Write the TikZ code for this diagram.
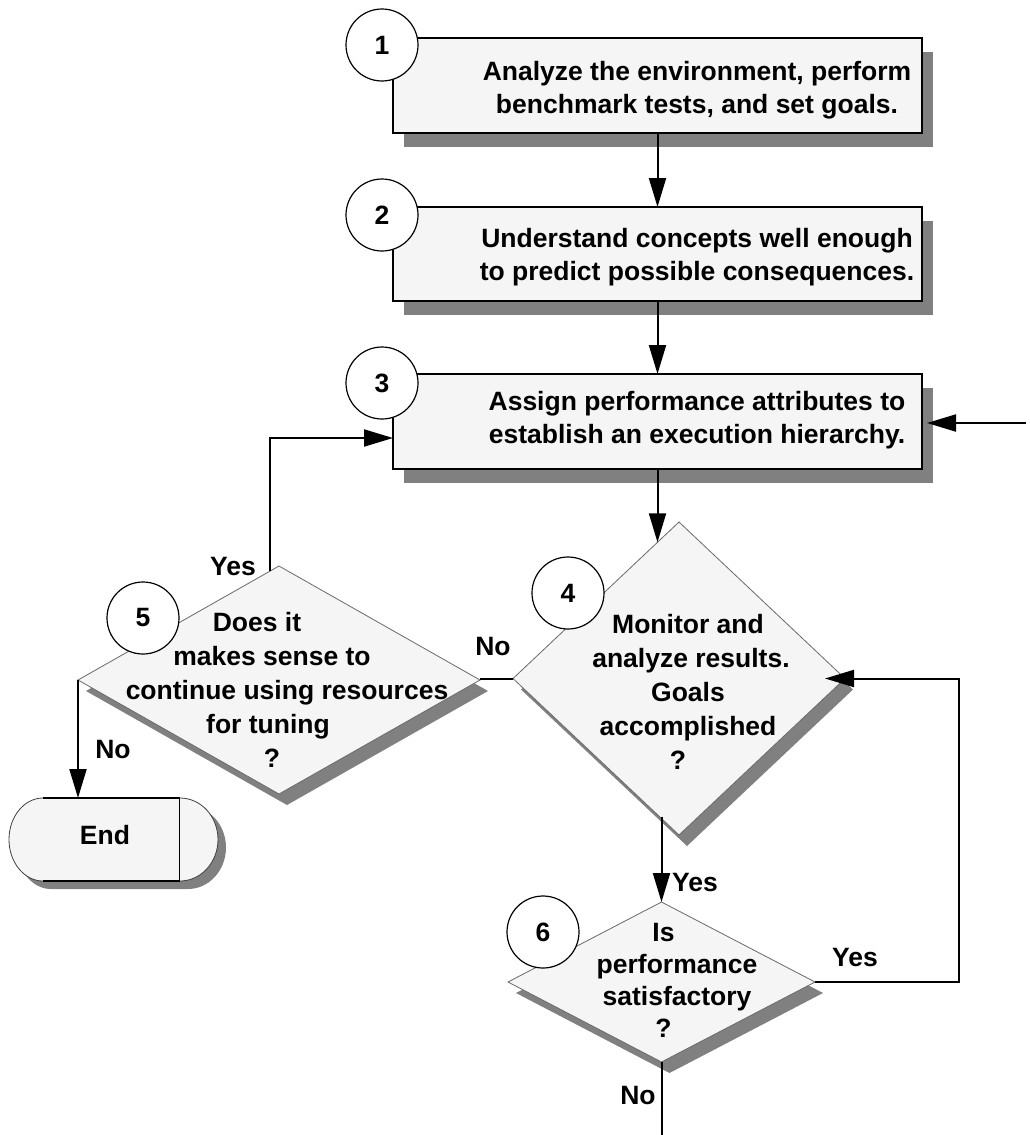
\documentclass[tikz,border=0pt]{standalone}
\usepackage{fontspec}
\setmainfont{Liberation Sans}
\usetikzlibrary{arrows.meta,shapes.geometric,shadows,calc}
\definecolor{panel}{RGB}{245,245,245}
\definecolor{shadowgray}{RGB}{128,128,128}
\definecolor{rim}{RGB}{105,105,105}
\begin{document}
\begin{tikzpicture}[x=1pt,y=-1pt,
  every node/.style={inner sep=0pt, outer sep=0pt},
  every shadow/.style={fill=shadowgray, opacity=1},
  txt/.style={font={\fontsize{26.5}{33}\selectfont\bfseries}, align=center},
  stepbox/.style={rectangle, draw=black, line width=1.3pt, fill=panel,
    minimum width=529pt,
    drop shadow={shadow xshift=11pt, shadow yshift=-14pt, fill=shadowgray, opacity=1}},
  decision/.style={diamond, draw=rim, line width=0.8pt, fill=panel,
    drop shadow={shadow xshift=8pt, shadow yshift=-11pt, fill=shadowgray, opacity=1}},
  numring/.style={circle, draw=black, line width=1.2pt, fill=white,
    minimum size=72pt, font={\fontsize{26.5}{33}\selectfont\bfseries}},
  conn/.style={line width=2pt},
  arrow/.style={conn, -{Triangle[length=29pt,width=17pt]}}
]
\useasboundingbox (0,0) rectangle (1029,1135);

% process boxes
\node[stepbox, minimum height=95pt] (b1) at (657.5,85.5) {};
\node[stepbox, minimum height=94pt] (b2) at (657.5,254) {};
\node[stepbox, minimum height=95pt] (b3) at (657.5,421.5) {};
\node[txt] (t1) at (697,90) {Analyze the environment, perform\\benchmark tests, and set goals.};
\node[txt] (t2) at (697,257) {Understand concepts well enough\\to predict possible consequences.};
\node[txt] (t3) at (697,420) {Assign performance attributes to\\establish an execution hierarchy.};

% decisions
\node[decision, minimum width=332pt, minimum height=313pt] (d4) at (679,678.5) {};
\node[decision, minimum width=402pt, minimum height=228pt] (d5) at (279,680) {};
\node[decision, minimum width=307pt, minimum height=160pt] (d6) at (661.5,982) {};
\node[txt, font={\fontsize{26.5}{34}\selectfont\bfseries}] (t4) at (688,692)
  {Monitor and\\\hspace*{6pt}analyze results.\\Goals\\accomplished\\?\hspace*{20pt}\mbox{}};
\node[txt, font={\fontsize{26.5}{34}\selectfont\bfseries}] (t5) at (272,690)
  {Does it\hspace*{30pt}\mbox{}\\makes sense to\\\hspace*{30pt}continue using resources\\for tuning\hspace*{8pt}\mbox{}\\?};
\node[txt, font={\fontsize{26.5}{32}\selectfont\bfseries}] (t6) at (677,980)
  {Is\hspace*{27pt}\mbox{}\\performance\\satisfactory\\?\hspace*{27pt}\mbox{}};

% step numbers
\node[numring] (n1) at (382,45) {1};
\node[numring] (n2) at (382,215) {2};
\node[numring] (n3) at (382,383) {3};
\node[numring] (n4) at (568,593) {4};
\node[numring] (n5) at (143,618) {5};
\node[numring] (n6) at (543,932) {6};

% terminator
\begin{scope}[shift={(8,8)}]
  \fill[shadowgray] (43,798) -- (180,798) arc[start angle=90, end angle=-90, x radius=38pt, y radius=41.5pt]
    -- (43,881) arc[start angle=270, end angle=90, x radius=34pt, y radius=41.5pt] -- cycle;
\end{scope}
\fill[panel] (43,798) -- (180,798) arc[start angle=90, end angle=-90, x radius=38pt, y radius=41.5pt]
    -- (43,881) arc[start angle=270, end angle=90, x radius=34pt, y radius=41.5pt] -- cycle;
\draw[black!75, line width=0.8pt] (180,798) arc[start angle=90, end angle=-90, x radius=38pt, y radius=41.5pt];
\draw[black!75, line width=0.8pt] (43,881) arc[start angle=270, end angle=90, x radius=34pt, y radius=41.5pt];
\draw[black, line width=2pt] (43,798) -- (180,798) (43,881) -- (180,881);
\draw[black, line width=1pt] (179,798) -- (179,881);
\coordinate (endtop) at (105,798);
\node[txt] (endn) at (105,835) {End};

% branch labels
\node[txt] (y5) at (233,567) {Yes};
\node[txt] (no45) at (493,647) {No};
\node[txt] (no5) at (113,750) {No};
\node[txt] (y4) at (695,883) {Yes};
\node[txt] (y6) at (855,958) {Yes};
\node[txt] (no6) at (638,1095) {No};

% connectors
\coordinate (d4in) at ($(d4.north)+(-21.5,20.3)$);
\coordinate (feed) at (1026,423);
\coordinate (loopx) at (959,0);
\coordinate (exit) at (664,1135);
\draw[arrow] (b1.south) -- (b2.north);
\draw[arrow] (b2.south) -- (b3.north);
\draw[arrow] (b3.south) -- (d4in);
\draw[arrow] (feed) -- ($(feed -| b3.east)+(5,0)$);
\draw[arrow] ($(d5.north)+(-9,5)$) |- ($(b3.west)+(0,16.5)$);
\draw[conn] (d4.west) -- (d4.west -| d5.east);
\draw[arrow] (d5.west) -- (d5.west |- endtop);
\draw[arrow] ($(d6.north |- d4.south)+(0,-18)$) -- (d6.north);
\draw[arrow] (d6.east) -- (loopx |- d6.east) -- (loopx |- d4.east) -- ($(d4.east)+(-20,0)$);
\draw[conn] (d6.south) -- (d6.south |- exit);
\end{tikzpicture}
\end{document}
